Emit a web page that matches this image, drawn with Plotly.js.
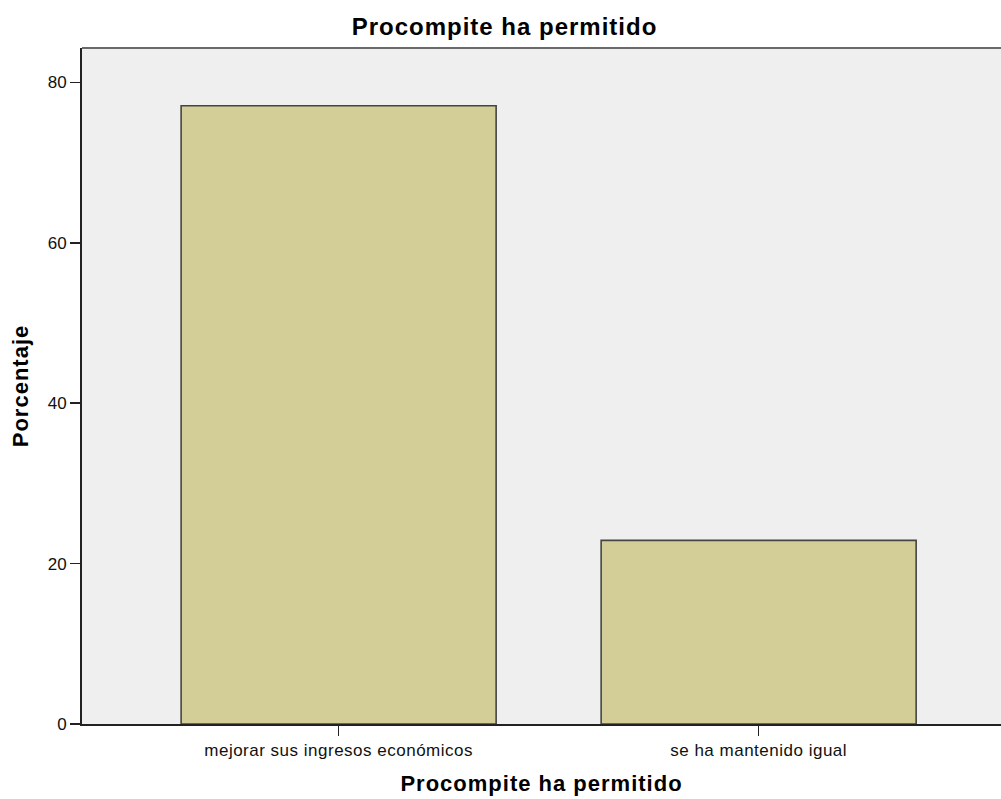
<!DOCTYPE html>
<html>
<head>
<meta charset="utf-8">
<script src="https://cdn.plot.ly/plotly-3.0.1.min.js"></script>
<style>
html,body{margin:0;padding:0;background:#fff;overflow:hidden;}
#chart{width:1001px;height:799px;}
.xtick text{letter-spacing:0.5px;}
.gtitle{letter-spacing:1px;}
.xtitle,.ytitle{letter-spacing:1px;}
</style>
</head>
<body>
<div id="chart"></div>
<script>
const categories = ["mejorar sus ingresos económicos", "se ha mantenido igual"];
const percentages = [77.1, 22.9];
const yTickVals = [0, 20, 40, 60, 80];
const chartTitle = "Procompite ha permitido";
const xTitle = "Procompite ha permitido";
const yTitle = "Porcentaje";

const FONT = "Liberation Sans, Arial, sans-serif";

const trace = {
  type: "bar",
  x: categories,
  y: percentages,
  width: 0.75,
  marker: { color: "#d3ce98", line: { color: "#444444", width: 1.6 } },
  hoverinfo: "x+y"
};

const layout = {
  width: 1001,
  height: 799,
  margin: { l: 82, r: 0, t: 48, b: 75 },
  paper_bgcolor: "#ffffff",
  plot_bgcolor: "#efefef",
  font: { family: FONT, color: "#000" },
  title: {
    text: chartTitle,
    font: { size: 24, family: FONT, weight: "bold", color: "#000" },
    x: 0.504, xref: "container", xanchor: "center",
    y: 1 - 27 / 799, yref: "container", yanchor: "middle"
  },
  showlegend: false,
  xaxis: {
    type: "category",
    range: [-0.611, 1.577],
    showline: true, linecolor: "#222", linewidth: 2,
    ticks: "outside", ticklen: 10, tickcolor: "#222", tickwidth: 1.5,
    tickfont: { size: 17, color: "#111" },
    showgrid: false, zeroline: false,
    title: { text: xTitle, font: { size: 22, weight: "bold", color: "#000" }, standoff: 16 }
  },
  yaxis: {
    range: [0, 84.3],
    tickvals: yTickVals,
    showline: true, linecolor: "#222", linewidth: 2,
    ticks: "outside", ticklen: 10, tickcolor: "#222", tickwidth: 1.5,
    tickfont: { size: 17, color: "#111" },
    showgrid: false, zeroline: false,
    title: { text: yTitle, font: { size: 22, weight: "bold", color: "#000" }, standoff: 13 }
  },
  shapes: [
    { type: "line", xref: "paper", yref: "paper", x0: 0, x1: 1, y0: 1, y1: 1,
      line: { color: "#6a6a6a", width: 2 } }
  ]
};

Plotly.newPlot("chart", [trace], layout, { displayModeBar: false, staticPlot: true });
</script>
</body>
</html>
